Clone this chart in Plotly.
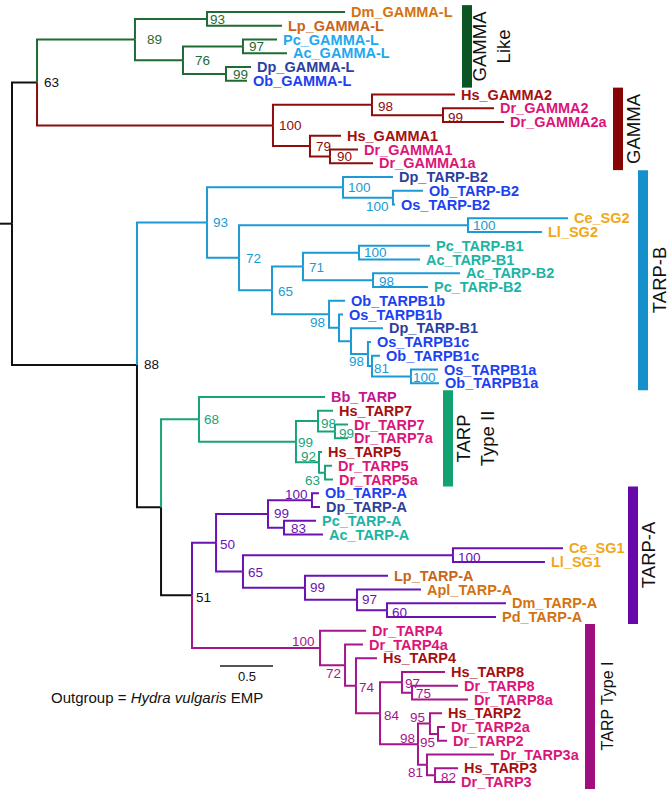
import plotly.graph_objects as go

# ---------------- data ----------------
tip_names = ["Dm_GAMMA-L", "Lp_GAMMA-L", "Pc_GAMMA-L", "Ac_GAMMA-L", "Dp_GAMMA-L", "Ob_GAMMA-L",
             "Hs_GAMMA2", "Dr_GAMMA2", "Dr_GAMMA2a", "Hs_GAMMA1", "Dr_GAMMA1", "Dr_GAMMA1a",
             "Dp_TARP-B2", "Ob_TARP-B2", "Os_TARP-B2", "Ce_SG2", "Ll_SG2", "Pc_TARP-B1", "Ac_TARP-B1",
             "Ac_TARP-B2", "Pc_TARP-B2", "Ob_TARPB1b", "Os_TARPB1b", "Dp_TARP-B1", "Os_TARPB1c",
             "Ob_TARPB1c", "Os_TARPB1a", "Ob_TARPB1a",
             "Bb_TARP", "Hs_TARP7", "Dr_TARP7", "Dr_TARP7a", "Hs_TARP5", "Dr_TARP5", "Dr_TARP5a",
             "Ob_TARP-A", "Dp_TARP-A", "Pc_TARP-A", "Ac_TARP-A", "Ce_SG1", "Ll_SG1", "Lp_TARP-A",
             "Apl_TARP-A", "Dm_TARP-A", "Pd_TARP-A",
             "Dr_TARP4", "Dr_TARP4a", "Hs_TARP4", "Hs_TARP8", "Dr_TARP8", "Dr_TARP8a", "Hs_TARP2",
             "Dr_TARP2a", "Dr_TARP2", "Dr_TARP3a", "Hs_TARP3", "Dr_TARP3"]
tip_parent = ["n93GL", "n93GL", "n97GL", "n97GL", "n99GL", "n99GL",
              "n98G", "n99G", "n99G", "n79G", "n90G", "n90G",
              "n100B2", "n100B2b", "n100B2b", "n100SG2", "n100SG2", "n100B1", "n100B1",
              "n98B2", "n98B2", "n98B1", "nXB", "nB1d", "nYB",
              "n81B", "n100B1a", "n100B1a",
              "n68", "n98T7", "n99T7", "n99T7", "n92T5", "n63T5", "n63T5",
              "n100A", "n100A", "n83A", "n83A", "n100SG1", "n100SG1", "n99A2",
              "n97A", "n60A", "n60A",
              "n100T1", "n72T", "n74T", "n97T8", "n75T8", "n75T8", "n95T2",
              "n95T2b", "n95T2b", "n81T3", "n82T3", "n82T3"]
tip_depth = [3.142, 2.547, 2.500, 2.594, 2.255, 2.217,
             4.179, 4.547, 4.642, 3.104, 3.264, 3.406,
             3.594, 3.877, 3.613, 5.245, 5.000, 3.943, 3.849,
             4.226, 3.925, 3.142, 3.123, 3.500, 3.387,
             3.472, 4.019, 4.028,
             2.953, 3.028, 3.170, 3.170, 2.925, 3.019, 3.028,
             2.896, 2.906, 2.868, 2.934, 5.198, 5.028, 3.547,
             3.858, 4.660, 4.566,
             3.340, 3.311, 3.443, 4.085, 4.208, 4.302, 4.057,
             4.085, 4.104, 4.547, 4.208, 4.179]

node_names = ["root", "n63", "n89", "n93GL", "n76", "n97GL", "n99GL",
              "n100G", "n98G", "n99G", "n79G", "n90G",
              "n88", "n93B", "n100B2", "n100B2b", "n72B", "n100SG2", "n65B", "n71B",
              "n100B1", "n98B2", "n98B1", "nXB", "nB1d", "nYB", "n81B", "n100B1a",
              "nIII", "n68", "n99T2", "n98T7", "n99T7", "n92T5", "n63T5",
              "n51", "n50", "n99A", "n100A", "n83A", "n65A", "n100SG1", "n99A2", "n97A", "n60A",
              "n100T1", "n72T", "n74T", "n84T", "n97T8", "n75T8", "n98T", "n95T2", "n95T2b",
              "n81T3", "n82T3"]
node_parent = [None, "root", "n63", "n89", "n89", "n76", "n76",
               "n63", "n100G", "n98G", "n100G", "n79G",
               "root", "n88", "n93B", "n100B2", "n93B", "n72B", "n72B", "n65B",
               "n71B", "n71B", "n65B", "n98B1", "nXB", "nB1d", "nYB", "n81B",
               "n88", "nIII", "n68", "n99T2", "n98T7", "n99T2", "n92T5",
               "nIII", "n51", "n50", "n99A", "n99A", "n50", "n65A", "n65A", "n99A2", "n97A",
               "n51", "n100T1", "n72T", "n74T", "n84T", "n97T8", "n84T", "n98T", "n95T2",
               "n98T", "n81T3"]
node_depth = [0.000, 0.236, 1.160, 1.840, 1.613, 2.179, 2.019,
              2.462, 3.396, 4.066, 2.811, 3.000,
              1.179, 1.840, 3.123, 3.594, 2.142, 4.302, 2.453, 2.745,
              3.274, 3.406, 2.991, 3.085, 3.198, 3.358, 3.396, 3.764,
              1.406, 1.764, 2.679, 2.887, 3.047, 2.896, 2.953,
              1.698, 1.925, 2.415, 2.830, 2.566, 2.179, 4.160, 2.764, 3.255, 3.538,
              2.906, 3.142, 3.245, 3.472, 3.679, 3.774, 3.830, 3.943, 4.019,
              3.915, 3.991]
node_support = ["", "63", "89", "93", "76", "97", "99",
                "100", "98", "99", "79", "90",
                "88", "93", "100", "100", "72", "100", "65", "71",
                "100", "98", "98", "", "", "98", "81", "100",
                "", "68", "99", "98", "99", "92", "63",
                "51", "50", "99", "100", "83", "65", "100", "99", "97", "60",
                "100", "72", "74", "84", "97", "75", "98", "95", "95",
                "81", "82"]
node_clade = ["k", "k", "GL", "GL", "GL", "GL", "GL",
              "G", "G", "G", "G", "G",
              "k", "B", "B", "B", "B", "B", "B", "B",
              "B", "B", "B", "B", "B", "B", "B", "B",
              "k", "T2", "T2", "T2", "T2", "T2", "T2",
              "k", "A", "A", "A", "A", "A", "A", "A", "A", "A",
              "T1", "T1", "T1", "T1", "T1", "T1", "T1", "T1", "T1",
              "T1", "T1"]

clade_keys = ["GL", "G", "B", "T2", "A", "T1"]
clade_labels = ["GAMMA<br>Like", "GAMMA", "TARP-B", "TARP<br>Type II", "TARP-A", "TARP Type I"]
clade_first_tip = ["Dm_GAMMA-L", "Hs_GAMMA2", "Dp_TARP-B2", "Bb_TARP", "Ob_TARP-A", "Dr_TARP4"]
clade_last_tip = ["Ob_GAMMA-L", "Dr_GAMMA1a", "Ob_TARPB1a", "Dr_TARP5a", "Pd_TARP-A", "Dr_TARP3"]

scale_length = 0.5
scale_label = "0.5"
outgroup_text = "Outgroup = <i>Hydra vulgaris</i> EMP"

# ---------------- styles ----------------
W, H = 669, 793
X0_PX, PX_PER_UNIT = 12, 106.0
Y0_PX, PX_PER_TIP = 12, 13.75
def px_x(p):
    return (p - X0_PX) / PX_PER_UNIT
def px_y(p):
    return (p - Y0_PX) / PX_PER_TIP

FONT = "Liberation Sans, Arial, Helvetica, sans-serif"
branch_color = {"k": "#111111", "GL": "#1f6a35", "G": "#8e0c0c", "B": "#1c9ad4",
                "T2": "#18a47a", "A": "#6a12b4", "T1": "#a5168c"}
bar_color = {"GL": "#0b5524", "G": "#860404", "B": "#1590cb", "T2": "#12a271",
             "A": "#6808a8", "T1": "#a00f80"}
species_color = {"Dm": "#d4730f", "Lp": "#c9641a", "Apl": "#d2730f", "Pd": "#d2730f",
                 "Dp": "#2e3f9d", "Ob": "#1b42f2", "Os": "#1b42f2", "Hs": "#a50f10",
                 "Dr": "#dc1679", "Ce": "#f1a71a", "Ll": "#f1a71a", "Bb": "#c2168e"}
light_blue_tips = {"Pc_GAMMA-L", "Ac_GAMMA-L"}
teal = "#1cb4a4"
light_blue = "#1fa9ee"

bar_px = {"GL": 462, "G": 613, "B": 638, "T2": 443, "A": 628, "T1": 585}
bar_w = 10
label_px = {"GL": 491, "G": 634, "B": 659, "T2": 475, "A": 648, "T1": 607}
label_size = {"GL": 18.5, "G": 18.5, "B": 18.5, "T2": 18.5, "A": 18.5, "T1": 16}

# support label placement: (xanchor, x-shift px, y-shift px downward)
sup_pos = {
    "n63": ("left", 5, 0), "n89": ("left", 10, 0), "n93GL": ("left", 1, 1), "n76": ("left", 10, 0),
    "n97GL": ("left", 4, 0), "n99GL": ("left", 5, 1), "n100G": ("left", 4, 0), "n98G": ("left", 4, 2),
    "n99G": ("left", 3, 2), "n79G": ("left", 4, 0), "n90G": ("left", 5, 0), "n88": ("left", 5, 0),
    "n93B": ("left", 4, 0), "n100B2": ("left", 3, 0), "n100B2b": ("right", -2, 9),
    "n72B": ("left", 5, 1), "n100SG2": ("left", 3, 0), "n65B": ("left", 4, 1), "n71B": ("left", 4, 1),
    "n100B1": ("left", 3, 0), "n98B2": ("left", 4, 1), "n98B1": ("right", -2, 8),
    "nYB": ("right", -2, 7), "n81B": ("left", 0, 2), "n100B1a": ("left", 0, 1),
    "n68": ("left", 3, 0), "n99T2": ("left", 0, 1), "n98T7": ("left", 1, 2), "n99T7": ("left", 2, 2),
    "n92T5": ("right", -1, -6), "n63T5": ("right", -3, 8),
    "n51": ("left", 2, 2), "n50": ("left", 2, 2), "n99A": ("left", 4, 0), "n100A": ("right", -2, -6),
    "n83A": ("left", 5, 1), "n65A": ("left", 3, 1), "n100SG1": ("left", 3, 2), "n99A2": ("left", 3, 0),
    "n97A": ("left", 3, 0), "n60A": ("left", 3, 2),
    "n100T1": ("right", -3, -6), "n72T": ("right", -2, 8), "n74T": ("left", 1, 2), "n84T": ("left", 2, 2),
    "n97T8": ("left", 1, 1), "n75T8": ("left", 2, 1), "n98T": ("right", -1, -6),
    "n95T2": ("right", -3, -6), "n95T2b": ("right", -1, 9), "n81T3": ("right", -2, 8),
    "n82T3": ("left", 4, 2),
}

# ---------------- layout of tree ----------------
depth, parent, clade = {}, {}, {}
for n, p, d, c in zip(node_names, node_parent, node_depth, node_clade):
    depth[n] = d; parent[n] = p; clade[n] = c
children = {n: [] for n in node_names}
ypos = {}
for i, (t, p, d) in enumerate(zip(tip_names, tip_parent, tip_depth)):
    depth[t] = d; parent[t] = p; clade[t] = clade[p]; ypos[t] = float(i)
    children[p].append(t)
for n, p in zip(node_names, node_parent):
    if p is not None:
        children[p].append(n)

def get_y(n):
    if n in ypos:
        return ypos[n]
    ys = [get_y(c) for c in children[n]]
    ypos[n] = (min(ys) + max(ys)) / 2
    return ypos[n]
get_y("root")

fig = go.Figure()
segs = {}
for n in list(node_names) + list(tip_names):
    p = parent[n]
    if p is None:
        continue
    xs, ys = segs.setdefault(clade[n], ([], []))
    xs += [depth[p], depth[p], depth[n], None]
    ys += [ypos[p], ypos[n], ypos[n], None]
xs, ys = segs["k"]
xs += [px_x(0), depth["root"], None]
ys += [ypos["root"], ypos["root"], None]

for c, (xs, ys) in segs.items():
    fig.add_trace(go.Scatter(x=xs, y=ys, mode="lines", hoverinfo="skip", showlegend=False,
                             line=dict(color=branch_color[c], width=2)))

ann = []
for t in tip_names:
    sp = t.split("_")[0]
    if t in light_blue_tips:
        col = light_blue
    elif sp in ("Pc", "Ac"):
        col = teal
    else:
        col = species_color[sp]
    ann.append(dict(x=depth[t], y=ypos[t], text="<b>%s</b>" % t, showarrow=False,
                    xanchor="left", yanchor="middle", xshift=4,
                    font=dict(family=FONT, size=14.5, color=col)))

for n, s in zip(node_names, node_support):
    if not s:
        continue
    anc, dx, dy = sup_pos[n]
    ann.append(dict(x=depth[n], y=ypos[n], text=s, showarrow=False, xanchor=anc, yanchor="middle",
                    xshift=dx, yshift=-dy,
                    font=dict(family=FONT, size=13.5, color=branch_color[clade[n]])))

shapes = []
for key, lab, ft, lt in zip(clade_keys, clade_labels, clade_first_tip, clade_last_tip):
    y0 = ypos[ft] - 0.5
    y1 = ypos[lt] + 0.5
    shapes.append(dict(type="rect", xref="x", yref="y", x0=px_x(bar_px[key]), x1=px_x(bar_px[key] + bar_w),
                       y0=y0, y1=y1, fillcolor=bar_color[key], line=dict(width=0)))
    ann.append(dict(x=px_x(label_px[key]), y=(y0 + y1) / 2,
                    text=lab, showarrow=False, textangle=-90, xanchor="center", yanchor="middle",
                    font=dict(family=FONT, size=label_size[key], color="#111111")))

sb_x0 = px_x(220)
sb_y = px_y(666)
shapes.append(dict(type="line", xref="x", yref="y", x0=sb_x0, x1=sb_x0 + scale_length, y0=sb_y, y1=sb_y,
                   line=dict(color="#555555", width=2)))
ann.append(dict(x=sb_x0 + scale_length / 2, y=sb_y, text=scale_label, showarrow=False, xanchor="center",
                yanchor="top", yshift=-1, font=dict(family=FONT, size=13, color="#111111")))
ann.append(dict(x=px_x(49), y=px_y(697), text=outgroup_text, showarrow=False, xanchor="left",
                yanchor="middle", font=dict(family=FONT, size=15, color="#111111")))

fig.update_layout(
    width=W, height=H, margin=dict(l=0, r=0, t=0, b=0, pad=0),
    paper_bgcolor="white", plot_bgcolor="white",
    xaxis=dict(range=[px_x(0), px_x(W)], visible=False, fixedrange=True),
    yaxis=dict(range=[px_y(H), px_y(0)], visible=False, fixedrange=True),
    annotations=ann, shapes=shapes, showlegend=False,
)
fig.write_html("out.html", config={"displayModeBar": False})

# remove default page margin so the figure sits at the window's top-left corner
with open("out.html", "r", encoding="utf-8") as f:
    html = f.read()
html = html.replace("<head>", "<head><style>html,body{margin:0;padding:0;overflow:hidden;}</style>", 1)
with open("out.html", "w", encoding="utf-8") as f:
    f.write(html)
